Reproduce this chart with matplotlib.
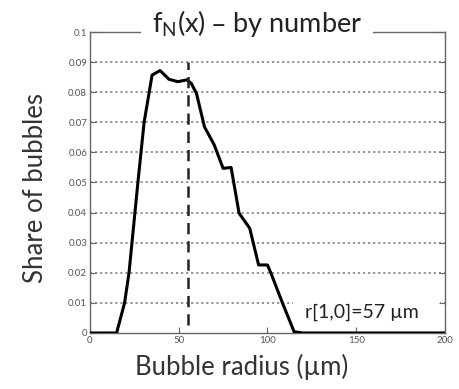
import matplotlib
matplotlib.use("Agg")
import matplotlib.pyplot as plt
from matplotlib.patches import Rectangle

radius = [0, 15, 19.5, 22, 27, 30.5, 35, 39.5, 44.5, 49.5, 54.5, 57, 60, 64.5, 70,
          75, 79.5, 84, 90, 95, 100, 102, 108.5, 115, 120, 200]
share = [0, 0, 0.01, 0.02, 0.05, 0.07, 0.0857, 0.0872, 0.0843, 0.0835, 0.0841, 0.083,
         0.0796, 0.0685, 0.0625, 0.0547, 0.055, 0.0398, 0.0348, 0.0226, 0.0226, 0.0198,
         0.0099, 0.0004, 0, 0]
mean_radius = 55
xticks = [0, 50, 100, 150, 200]
yticks = [0, 0.01, 0.02, 0.03, 0.04, 0.05, 0.06, 0.07, 0.08, 0.09, 0.1]
ytick_labels = ["0", "0.01", "0.02", "0.03", "0.04", "0.05", "0.06", "0.07", "0.08", "0.09", "0.1"]

plt.rcParams['font.family'] = ['Lato', 'DejaVu Sans']

fig = plt.figure(figsize=(4.59, 3.89), dpi=100)
ax = fig.add_axes([0.196, 0.144, 0.7735, 0.7737])

ax.set_xlim(0, 200)
ax.set_ylim(0, 0.1)
for y in yticks[1:-1]:
    ax.axhline(y, color='#8a8a8a', lw=1.3, ls=(0, (1.2, 1.6)), zorder=1)

# white box behind the annotation
ax.add_patch(Rectangle((0.572, 0.045), 0.414, 0.075, transform=ax.transAxes,
                       facecolor='white', edgecolor='none', zorder=1.5))

ax.plot(radius, share, color='black', lw=2.2, zorder=3)
ax.vlines(mean_radius, 0.0025, 0.09, colors='#222222', lw=1.8, linestyles=(0, (4.5, 2.8)), zorder=3)

ax.set_xticks(xticks)
ax.set_xticklabels([str(t) for t in xticks])
ax.set_yticks(yticks)
ax.set_yticklabels(ytick_labels)
ax.tick_params(direction='in', length=4, width=0.8, colors='#666666', labelsize=7,
               labelcolor='#555555', top=True, right=True, pad=2)
for s in ax.spines.values():
    s.set_color('#666666')
    s.set_linewidth(1.0)

ax.text(0.47, 1.0, r"f$_\mathregular{N}$(x) – by number", transform=ax.transAxes,
        ha='center', va='baseline', fontsize=19.5, color='#222222',
        bbox=dict(facecolor='white', edgecolor='none', pad=8), zorder=5, clip_on=False)
ax.text(153, 0.007, "r[1,0]=57 µm", ha='center', va='center',
        fontsize=14, color='#222222', zorder=4)

fig.text(242 / 459, 1 - 367 / 389, "Bubble radius (µm)", ha='center', va='center',
         fontsize=18.5, color='#333333')
fig.text(36 / 459, 1 - 188 / 389, "Share of bubbles", ha='center', va='center',
         rotation=90, fontsize=18.5, color='#333333')

fig.savefig("out.png", dpi=100)
